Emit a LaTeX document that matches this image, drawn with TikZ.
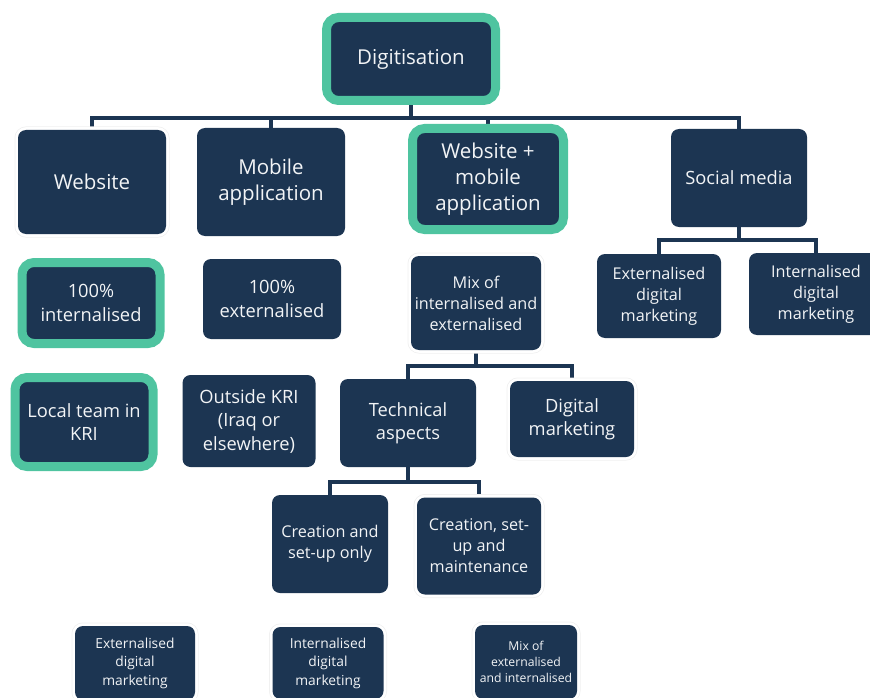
\documentclass[tikz,border=0pt]{standalone}
\usepackage{fontspec}
\setmainfont{Open Sans}
\usetikzlibrary{backgrounds}
\definecolor{navy}{HTML}{1C3552}
\definecolor{mint}{HTML}{4FC4A0}
\definecolor{txt}{HTML}{F2F4F6}
\tikzset{
  box/.style={fill=navy, text=txt, rounded corners=8pt, align=center, inner sep=0pt},
  hl/.style={draw=mint, line width=9pt, rounded corners=12pt},
  halo/.style={preaction={draw=black!6, line width=7pt}, preaction={draw=white, line width=5.5pt}},
  conn/.style={draw=navy, line width=3.5pt},
  fA/.style={font=\fontsize{20.5}{26}\selectfont},
  fB/.style={font=\fontsize{18.3}{23.5}\selectfont},
  fC/.style={font=\fontsize{16.2}{21}\selectfont},
  fD/.style={font=\fontsize{13.8}{18.5}\selectfont},
  fE/.style={font=\fontsize{12.2}{16}\selectfont},
}
\begin{document}
\begin{tikzpicture}[x=1pt,y=-1pt]
\useasboundingbox (0,0) rectangle (870,698);
\clip (0,0) rectangle (870,698);

% level 0/1
\node[box,hl,fA,minimum width=169pt,minimum height=83pt] (dig) at (411,59) {Digitisation};
\node[box,halo,fA,minimum width=148pt,minimum height=104pt] (web) at (92,182) {Website};
\node[box,fA,minimum width=148pt,minimum height=108pt] (mob) at (271,182) {Mobile\\application};
\node[box,hl,fA,minimum width=151pt,minimum height=101pt] (wm) at (488,179) {Website +\\mobile\\application};
\node[box,fB,minimum width=136pt,minimum height=98pt] (soc) at (739,178) {Social media};

% social media children
\node[box,fC,minimum width=124pt,minimum height=84pt] (sext) at (659,296) {Externalised\\digital\\marketing};
\node[box,fC,minimum width=134pt,minimum height=82pt] (sint) at (816,294) {Internalised\\digital\\marketing};

% second row
\node[box,hl,fB,minimum width=138pt,minimum height=81pt] (int100) at (91,303) {100\%\\internalised};
\node[box,fB,minimum width=138pt,minimum height=80pt] (ext100) at (272,299) {100\%\\externalised};
\node[box,halo,fC,minimum width=130pt,minimum height=94pt] (mix) at (476,303) {Mix of\\internalised and\\externalised};

% third row
\node[box,hl,fB,minimum width=138pt,minimum height=89pt] (local) at (84,422) {Local team in\\KRI};
\node[box,fB,minimum width=133pt,minimum height=92pt] (outside) at (249,421) {Outside KRI\\(Iraq or\\elsewhere)};
\node[box,fB,minimum width=136pt,minimum height=88pt] (tech) at (408,423) {Technical\\aspects};
\node[box,halo,fB,minimum width=124pt,minimum height=76pt] (digm) at (572,419) {Digital\\marketing};

% fourth row
\node[box,fC,minimum width=116pt,minimum height=98pt] (cso) at (330,544) {Creation and\\set-up only};
\node[box,halo,fC,minimum width=124pt,minimum height=97pt] (csm) at (479,546) {Creation, set-\\up and\\maintenance};

% bottom row
\node[box,halo,fD,minimum width=120pt,minimum height=74pt] (bext) at (135,663) {Externalised\\digital\\marketing};
\node[box,halo,fD,minimum width=111pt,minimum height=72pt] (bint) at (328,663) {Internalised\\digital\\marketing};
\node[box,halo,fE,minimum width=102pt,minimum height=74pt] (bmix) at (526,662) {Mix of\\externalised\\and internalised};

\begin{pgfonlayer}{background}
\coordinate (j1) at (411,118);
\draw[conn] (dig.south) -- (j1);
\draw[conn] (web.north) |- (j1) -| (soc.north);
\draw[conn] (mob.north) -- (mob.north |- j1);
\draw[conn] (wm.north) -- (wm.north |- j1);

\coordinate (j2) at (739,240);
\draw[conn] (soc.south) -- (j2);
\draw[conn] (sext.north) |- (j2) -| (sint.north);

\coordinate (j3) at (476,366);
\draw[conn] (mix.south) -- (j3);
\draw[conn] (tech.north) |- (j3) -| (digm.north);

\coordinate (j4) at (408,482);
\draw[conn] (tech.south) -- (j4);
\draw[conn] (cso.north) |- (j4) -| (csm.north);
\end{pgfonlayer}
\end{tikzpicture}
\end{document}
